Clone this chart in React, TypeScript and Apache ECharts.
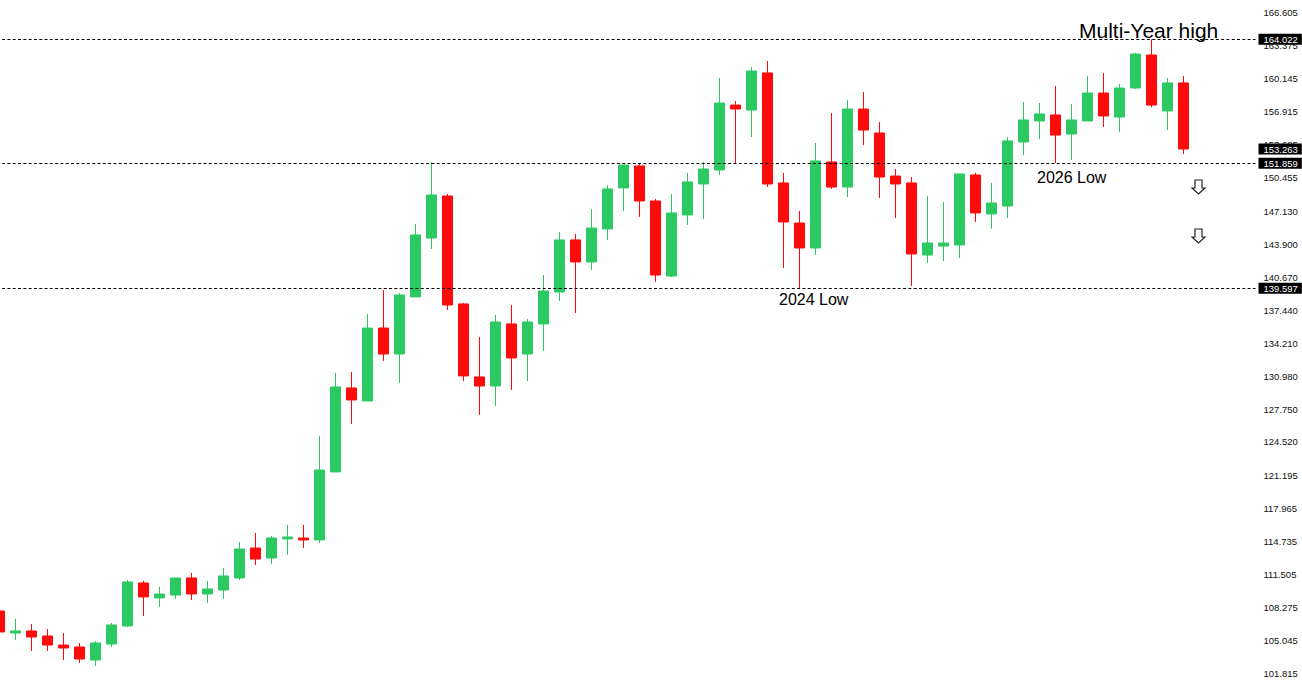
import { useEffect, useRef } from 'react';
import * as echarts from 'echarts';

const opens = [
  107.94, 105.78, 105.98, 105.49, 104.60, 104.41, 103.13, 104.70, 106.47, 110.69,
  109.22, 109.51, 111.18, 109.61, 110.00, 111.18, 114.12, 113.14, 115.01, 115.10,
  114.91, 121.58, 129.82, 128.54, 135.70, 133.15, 138.75, 144.53, 148.65, 138.06,
  130.90, 130.01, 136.10, 133.15, 136.10, 139.23, 144.34, 142.18, 145.42, 149.44,
  151.60, 148.16, 140.80, 146.79, 149.83, 151.20, 157.57, 157.08, 160.72, 149.93,
  146.00, 143.55, 151.99, 149.53, 157.18, 154.83, 150.61, 149.93, 142.86, 143.74,
  143.85, 150.71, 146.89, 147.67, 153.95, 156.01, 156.60, 154.73, 156.01, 158.75,
  156.40, 159.24, 162.48, 156.99, 159.74,
];
const closes = [
  105.88, 105.98, 105.39, 104.60, 104.31, 103.23, 104.80, 106.57, 110.79, 109.32,
  109.61, 111.18, 109.61, 110.10, 111.38, 114.02, 113.04, 115.10, 115.20, 114.91,
  121.77, 129.92, 128.64, 135.70, 133.15, 138.94, 144.83, 148.75, 137.96, 131.00,
  130.01, 136.29, 132.76, 136.29, 139.33, 144.34, 142.18, 145.51, 149.34, 151.69,
  148.16, 140.90, 146.99, 150.03, 151.30, 157.77, 157.18, 160.91, 149.83, 146.10,
  143.55, 152.09, 149.53, 157.18, 155.12, 150.51, 149.83, 142.96, 144.04, 144.04,
  150.81, 146.99, 147.96, 154.05, 156.11, 156.70, 154.63, 156.11, 158.75, 156.50,
  159.24, 162.58, 157.57, 159.74, 153.26,
];
const lows = [
  105.88, 105.09, 104.02, 104.02, 103.13, 102.84, 102.55, 104.41, 106.37, 107.45,
  108.33, 109.12, 109.02, 108.73, 109.12, 110.98, 112.45, 112.55, 113.44, 114.12,
  114.61, 121.58, 126.29, 128.54, 132.47, 130.31, 138.75, 143.45, 137.47, 130.50,
  127.17, 128.05, 129.62, 130.50, 133.45, 138.35, 137.17, 141.39, 144.34, 147.18,
  146.59, 140.22, 140.71, 145.81, 146.39, 150.71, 151.79, 154.44, 149.53, 141.59,
  139.63, 142.86, 149.34, 148.55, 153.65, 148.45, 146.49, 139.82, 142.08, 142.27,
  142.57, 146.10, 145.42, 146.49, 152.67, 154.24, 151.89, 152.18, 156.01, 155.42,
  154.93, 159.15, 157.38, 155.12, 152.77,
];
const highs = [
  107.94, 107.16, 106.67, 106.17, 105.78, 104.80, 104.99, 106.76, 110.98, 110.88,
  110.30, 111.18, 111.67, 110.88, 112.16, 114.71, 115.59, 115.30, 116.38, 116.38,
  125.11, 131.29, 131.39, 137.08, 139.43, 139.14, 145.91, 151.99, 148.85, 138.16,
  134.82, 136.98, 137.96, 136.59, 140.90, 145.12, 144.93, 147.37, 149.73, 151.69,
  151.89, 148.36, 148.85, 150.91, 151.99, 160.22, 157.97, 161.30, 161.89, 150.91,
  147.18, 153.85, 156.79, 158.07, 158.85, 155.91, 151.30, 150.51, 148.65, 148.06,
  150.81, 150.91, 149.93, 154.44, 157.87, 157.77, 159.44, 157.67, 160.42, 160.72,
  159.63, 162.68, 164.02, 160.22, 160.42,
];

const tickValues = [
  166.605, 163.375, 160.145, 156.915, 153.685, 150.455, 147.13, 143.9, 140.67, 137.44,
  134.21, 130.98, 127.75, 124.52, 121.195, 117.965, 114.735, 111.505, 108.275, 105.045, 101.815,
];
const dashedLevels = [164.022, 151.859, 139.597];
const lastPrice = 153.263;

const GREEN = '#2cc962';
const RED = '#ff0a0a';
const LABEL_FONT = 'Liberation Sans';

// one slot per candle plus the empty space up to the price scale
const categories = Array.from({ length: 79 }, (_, i) => String(i));
const candles = opens.map((o, i) => [o, closes[i], lows[i], highs[i]]);

function priceTag(value: number) {
  return {
    yAxis: value,
    label: {
      show: true,
      position: 'end' as const,
      distance: 3,
      formatter: value.toFixed(3),
      color: '#fff',
      backgroundColor: '#000',
      fontFamily: LABEL_FONT,
      fontSize: 9.5,
      lineHeight: 11,
      padding: [0, 4, 0, 5],
    },
  };
}

function downArrow(x: number, y: number) {
  return {
    type: 'polygon',
    shape: {
      points: [
        [x + 3, y],
        [x + 10, y],
        [x + 10, y + 8],
        [x + 13, y + 8],
        [x + 6.5, y + 14],
        [x, y + 8],
        [x + 3, y + 8],
      ],
    },
    style: { fill: '#fff', stroke: '#222', lineWidth: 1.2 },
  };
}

export default function App() {
  const chartRef = useRef<HTMLDivElement>(null);

  useEffect(() => {
    if (!chartRef.current) return;
    const chart = echarts.init(chartRef.current, undefined, { renderer: 'svg' });

    chart.setOption({
      animation: false,
      backgroundColor: '#fff',
      grid: { left: -8.5, top: 0, width: 1264, height: 698, outerBoundsMode: 'none' },
      xAxis: {
        type: 'category',
        data: categories,
        show: false,
      },
      yAxis: {
        type: 'value',
        position: 'right',
        min: 99.405,
        max: 167.877,
        axisLine: { show: false },
        axisTick: { show: false },
        splitLine: { show: false },
        axisLabel: {
          customValues: tickValues,
          formatter: (v: number) => v.toFixed(3),
          color: '#111',
          fontFamily: LABEL_FONT,
          fontSize: 9.5,
          margin: 8,
          padding: [1, 0, 0, 0],
        },
      },
      series: [
        {
          type: 'candlestick',
          data: candles,
          barWidth: 10,
          itemStyle: {
            color: GREEN,
            color0: RED,
            borderColor: GREEN,
            borderColor0: RED,
            borderWidth: 1,
          },
          markLine: {
            silent: true,
            symbol: 'none',
            animation: false,
            lineStyle: { color: '#000', type: [3, 2.3], width: 1.2 },
            data: [
              ...dashedLevels.map(priceTag),
              // the last price has a tag on the scale but no line across the chart
              { ...priceTag(lastPrice), lineStyle: { color: 'rgba(0,0,0,0)' } },
            ],
          },
        },
      ],
      graphic: [
        {
          type: 'text',
          x: 1079,
          y: 30,
          style: {
            text: 'Multi-Year high',
            font: '21px "Liberation Sans"',
            fill: '#000',
            textVerticalAlign: 'middle',
          },
        },
        {
          type: 'text',
          x: 1037,
          y: 177,
          style: {
            text: '2026 Low',
            font: '16px "Liberation Sans"',
            fill: '#000',
            textVerticalAlign: 'middle',
          },
        },
        {
          type: 'text',
          x: 779,
          y: 299,
          style: {
            text: '2024 Low',
            font: '16px "Liberation Sans"',
            fill: '#000',
            textVerticalAlign: 'middle',
          },
        },
        downArrow(1192, 180),
        downArrow(1192, 229),
      ],
    });

    return () => chart.dispose();
  }, []);

  return (
    <div
      ref={chartRef}
      style={{ position: 'absolute', left: 0, top: 0, width: 1302, height: 698 }}
    />
  );
}
